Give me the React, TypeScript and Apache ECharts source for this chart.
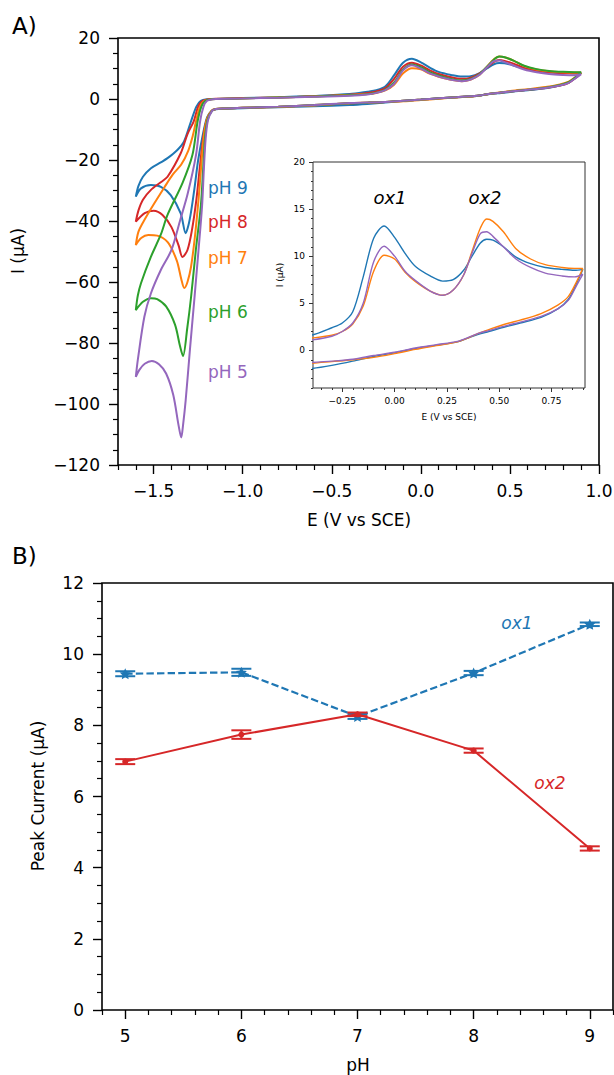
import React, { useEffect, useRef } from "react";
import * as echarts from "echarts";

// ---------- Panel A : cyclic voltammograms ----------
const PH_LABELS = ["pH 9", "pH 8", "pH 7", "pH 6", "pH 5"];
const CV_COLORS = ["#1f77b4", "#d62728", "#ff7f0e", "#2ca02c", "#9467bd"];

// reverse (negative-going) branch potentials, V vs SCE
const lowerE = [0.9, 0.87, 0.83, 0.78, 0.7, 0.6, 0.53, 0.45, 0.4, 0.35, 0.3, 0.2, 0.1, 0.0, -0.1, -0.2, -0.3, -0.4, -0.6, -0.8, -1.0, -1.1, -1.15];
const lowerI_pH9 = [8.6, 7.1, 5.4, 4.4, 3.5, 2.9, 2.5, 2.0, 1.7, 1.3, 0.9, 0.55, 0.2, -0.25, -0.65, -1.15, -1.6, -1.95, -2.4, -2.7, -3.0, -3.2, -3.35];
const lowerI_pH8 = [8.5, 7.0, 5.3, 4.4, 3.6, 3.0, 2.6, 2.1, 1.8, 1.35, 0.95, 0.6, 0.25, -0.2, -0.55, -0.95, -1.2, -1.4, -2.0, -2.5, -2.9, -3.1, -3.3];
const lowerI_pH7 = [8.7, 7.3, 5.7, 4.8, 3.9, 3.2, 2.8, 2.2, 1.8, 1.3, 0.9, 0.5, 0.1, -0.35, -0.75, -1.0, -1.2, -1.4, -2.1, -2.6, -2.9, -3.1, -3.3];
const lowerI_pH6 = [8.8, 7.2, 5.5, 4.6, 3.7, 3.0, 2.6, 2.1, 1.8, 1.35, 0.95, 0.6, 0.25, -0.2, -0.55, -0.95, -1.2, -1.4, -2.0, -2.5, -2.9, -3.1, -3.3];
const lowerI_pH5 = [8.1, 6.9, 5.3, 4.4, 3.6, 3.0, 2.6, 2.1, 1.8, 1.35, 0.95, 0.6, 0.25, -0.2, -0.55, -0.95, -1.15, -1.3, -2.0, -2.5, -2.9, -3.1, -3.3];

// cathodic peak region down to the -1.6 V vertex, [E, I]
const cathodic_pH9 = [[-1.175, -3.9], [-1.2, -6], [-1.225, -12], [-1.25, -20], [-1.27, -29], [-1.29, -37], [-1.305, -41.5], [-1.32, -44], [-1.348, -37.5], [-1.404, -31.5], [-1.459, -28.8], [-1.515, -28.2], [-1.571, -29.3], [-1.6, -32]];
const cathodic_pH8 = [[-1.175, -3.9], [-1.2, -6.5], [-1.22, -12], [-1.24, -22], [-1.26, -33], [-1.285, -43], [-1.31, -49.5], [-1.338, -51.8], [-1.36, -48], [-1.4, -42], [-1.45, -38], [-1.5, -36.6], [-1.55, -37.4], [-1.6, -40.2]];
const cathodic_pH7 = [[-1.175, -3.9], [-1.2, -6.5], [-1.218, -12], [-1.233, -22], [-1.248, -33], [-1.268, -45], [-1.29, -55], [-1.31, -60], [-1.328, -62], [-1.345, -59], [-1.37, -53], [-1.42, -47], [-1.48, -44.8], [-1.53, -44.6], [-1.57, -45.6], [-1.6, -47.9]];
const cathodic_pH6 = [[-1.173, -3.9], [-1.198, -7], [-1.212, -13], [-1.222, -23], [-1.235, -35], [-1.263, -49.5], [-1.29, -65], [-1.311, -75], [-1.335, -84.3], [-1.352, -81], [-1.38, -74], [-1.43, -68], [-1.48, -65.6], [-1.515, -65.3], [-1.56, -66.5], [-1.6, -69.2]];
const cathodic_pH5 = [[-1.172, -3.9], [-1.195, -7], [-1.208, -13], [-1.218, -23], [-1.228, -35], [-1.248, -49.5], [-1.272, -66], [-1.296, -82], [-1.32, -98.7], [-1.335, -107], [-1.345, -111], [-1.36, -107], [-1.39, -97], [-1.43, -90], [-1.47, -87], [-1.51, -85.9], [-1.55, -86.8], [-1.58, -88.8], [-1.6, -91.1]];

// return (positive-going) branch from the vertex, [E, I]
const return_pH9 = [[-1.585, -28.5], [-1.56, -25.5], [-1.515, -22.7], [-1.46, -20.8], [-1.422, -19.4], [-1.367, -16.7], [-1.33, -14], [-1.29, -7.3], [-1.26, -2.5], [-1.235, -0.6], [-1.2, -0.1]];
const return_pH8 = [[-1.585, -36.5], [-1.56, -33], [-1.515, -29.8], [-1.46, -27.3], [-1.422, -25.5], [-1.348, -17.8], [-1.31, -11.5], [-1.275, -7.3], [-1.25, -2.5], [-1.225, -0.6], [-1.19, -0.1]];
const return_pH7 = [[-1.585, -43.5], [-1.552, -39.7], [-1.496, -34.2], [-1.44, -29], [-1.393, -24.8], [-1.345, -21.5], [-1.306, -17], [-1.28, -12], [-1.262, -7.3], [-1.24, -2.5], [-1.215, -0.6], [-1.18, -0.1]];
const return_pH6 = [[-1.589, -64.5], [-1.571, -60.4], [-1.515, -51.7], [-1.46, -44.5], [-1.422, -38], [-1.337, -27.4], [-1.282, -18.3], [-1.253, -7.3], [-1.232, -2.5], [-1.21, -0.6], [-1.175, -0.1]];
const return_pH5 = [[-1.589, -85.6], [-1.552, -71.4], [-1.515, -63.7], [-1.459, -56], [-1.4, -49.5], [-1.35, -39.5], [-1.309, -31.1], [-1.262, -18.3], [-1.239, -7.3], [-1.22, -2.5], [-1.2, -0.6], [-1.168, -0.1]];

// forward (anodic) branch with ox1 / ox2 peaks
const upperE = [-1.15, -1.0, -0.8, -0.6, -0.4, -0.3, -0.25, -0.2, -0.15, -0.1, -0.05, 0.0, 0.05, 0.1, 0.17, 0.23, 0.28, 0.33, 0.37, 0.41, 0.44, 0.47, 0.52, 0.58, 0.65, 0.72, 0.8, 0.86, 0.9];
const upperI_pH9 = [0.0, 0.3, 0.6, 1.0, 1.6, 2.4, 2.9, 4.1, 7.8, 11.9, 13.2, 12.0, 10.3, 8.9, 7.9, 7.35, 7.5, 8.5, 10.0, 11.4, 11.8, 11.7, 11.0, 9.9, 9.2, 8.8, 8.6, 8.5, 8.6];
const upperI_pH8 = [0.1, 0.3, 0.5, 0.9, 1.4, 2.0, 2.5, 3.6, 6.6, 10.6, 11.9, 11.0, 9.4, 8.2, 7.1, 6.6, 7.0, 8.4, 10.3, 12.2, 12.8, 12.5, 11.6, 10.2, 9.3, 8.8, 8.5, 8.4, 8.5];
const upperI_pH7 = [0.0, 0.2, 0.5, 0.8, 1.3, 1.6, 2.0, 2.8, 4.7, 8.4, 10.1, 9.7, 8.3, 7.3, 6.3, 5.85, 6.4, 8.0, 10.5, 13.0, 13.95, 13.7, 12.6, 10.8, 9.7, 9.1, 8.8, 8.7, 8.7];
const upperI_pH6 = [0.0, 0.2, 0.5, 0.8, 1.2, 1.6, 2.1, 3.1, 5.4, 9.6, 11.3, 10.4, 8.8, 7.7, 6.6, 6.1, 6.6, 8.2, 10.5, 12.9, 13.9, 13.7, 12.6, 10.9, 9.8, 9.2, 8.9, 8.8, 8.8];
const upperI_pH5 = [0.0, 0.2, 0.4, 0.7, 1.1, 1.5, 2.0, 2.9, 5.0, 9.4, 11.05, 10.0, 8.4, 7.4, 6.3, 5.85, 6.4, 8.0, 10.3, 12.4, 12.6, 12.1, 11.0, 9.7, 8.8, 8.2, 7.9, 7.8, 8.1];

// tick labels
const A_X_TICKS = [-1.5, -1.0, -0.5, 0.0, 0.5, 1.0];
const A_Y_TICKS = [-120, -100, -80, -60, -40, -20, 0, 20];
const INSET_X_TICKS = [-0.25, 0.0, 0.25, 0.5, 0.75];
const INSET_Y_TICKS = [0, 5, 10, 15, 20];

// ---------- Panel B : peak currents vs pH ----------
const pHValues = [5, 6, 7, 8, 9];
const ox1Mean = [9.45, 9.49, 8.25, 9.47, 10.84];
const ox1Err = [0.07, 0.1, 0.07, 0.06, 0.05];
const ox2Mean = [6.98, 7.74, 8.31, 7.29, 4.54];
const ox2Err = [0.07, 0.12, 0.05, 0.06, 0.06];
const B_X_TICKS = [5, 6, 7, 8, 9];
const B_Y_TICKS = [0, 2, 4, 6, 8, 10, 12];

const FONT = "DejaVu Sans";
const BLUE = "#1f77b4";
const RED = "#d62728";

function buildLoop(lowerI: number[], cath: number[][], ret: number[][], upperI: number[]) {
  const pts: number[][] = [];
  lowerE.forEach((e, i) => pts.push([e, lowerI[i]]));
  cath.forEach((p) => pts.push(p));
  ret.forEach((p) => pts.push(p));
  upperE.forEach((e, i) => pts.push([e, upperI[i]]));
  return pts;
}

function steps(min: number, max: number, step: number, skip: number[] = []) {
  const out: number[] = [];
  const k0 = Math.ceil(min / step - 1e-9);
  const k1 = Math.floor(max / step + 1e-9);
  for (let k = k0; k <= k1; k++) {
    const v = Math.round(k * step * 1e6) / 1e6;
    if (!skip.some((s) => Math.abs(s - v) < 1e-6)) out.push(v);
  }
  return out;
}

const fmt = (d: number) => (v: number) => (v < -1e-9 ? "\u2212" : "") + Math.abs(v).toFixed(d);

function majorAxis(grid: number, pos: string, min: number, max: number, ticks: number[], dec: number, o: any) {
  return {
    type: "value",
    gridIndex: grid,
    position: pos,
    min,
    max,
    axisLine: { show: false, onZero: false },
    splitLine: { show: false },
    axisTick: { show: true, customValues: ticks, length: o.tickLen, lineStyle: { color: "#000", width: o.tickW } },
    axisLabel: {
      show: true,
      customValues: ticks,
      formatter: fmt(dec),
      margin: o.margin,
      fontFamily: FONT,
      fontSize: o.fontSize,
      color: "#000",
      showMinLabel: true,
      showMaxLabel: true,
    },
  };
}

function minorAxis(grid: number, pos: string, min: number, max: number, ticks: number[], len: number, w: number) {
  return {
    type: "value",
    gridIndex: grid,
    position: pos,
    min,
    max,
    axisLine: { show: false, onZero: false },
    splitLine: { show: false },
    axisLabel: { show: false },
    axisTick: { show: true, customValues: ticks, length: len, lineStyle: { color: "#000", width: w } },
  };
}

const STAR = "path://M0,-10 L2.9,-4 9.5,-3.1 4.8,1.5 5.9,8.1 0,5 -5.9,8.1 -4.8,1.5 -9.5,-3.1 -2.9,-4 Z";

export default function App() {
  const ref = useRef<HTMLDivElement>(null);

  useEffect(() => {
    if (!ref.current) return;
    const chart = echarts.init(ref.current, null, { renderer: "svg" });

    const loops = [
      buildLoop(lowerI_pH9, cathodic_pH9, return_pH9, upperI_pH9),
      buildLoop(lowerI_pH8, cathodic_pH8, return_pH8, upperI_pH8),
      buildLoop(lowerI_pH7, cathodic_pH7, return_pH7, upperI_pH7),
      buildLoop(lowerI_pH6, cathodic_pH6, return_pH6, upperI_pH6),
      buildLoop(lowerI_pH5, cathodic_pH5, return_pH5, upperI_pH5),
    ];

    const mainSeries = loops.map((d, i) => ({
      type: "line",
      name: PH_LABELS[i],
      xAxisIndex: 0,
      yAxisIndex: 0,
      data: d,
      showSymbol: false,
      smooth: 0.3,
      lineStyle: { color: CV_COLORS[i], width: 2 },
      z: 2 + i,
    }));

    // inset: pH 9, pH 7, pH 5
    const insetIdx = [0, 2, 4];
    const insetSeries = insetIdx.map((i, k) => ({
      type: "line",
      name: PH_LABELS[i] + " (inset)",
      xAxisIndex: 2,
      yAxisIndex: 2,
      data: loops[i],
      showSymbol: false,
      smooth: 0.3,
      clip: true,
      lineStyle: { color: CV_COLORS[i], width: 1.4 },
      z: 10 + k,
    }));

    const errData = (mean: number[], err: number[]) => pHValues.map((p, i) => [p, mean[i] - err[i], mean[i] + err[i]]);
    const errSeries = (name: string, mean: number[], err: number[], color: string, z: number) => ({
      type: "custom",
      name,
      xAxisIndex: 4,
      yAxisIndex: 4,
      data: errData(mean, err),
      encode: { x: 0, y: [1, 2] },
      z,
      renderItem: (params: any, api: any) => {
        const x = api.value(0);
        const lo = api.coord([x, api.value(1)]);
        const hi = api.coord([x, api.value(2)]);
        const cap = 10;
        const st = { stroke: color, lineWidth: 2 };
        return {
          type: "group",
          children: [
            { type: "line", shape: { x1: lo[0], y1: lo[1], x2: hi[0], y2: hi[1] }, style: st },
            { type: "line", shape: { x1: lo[0] - cap, y1: lo[1], x2: lo[0] + cap, y2: lo[1] }, style: st },
            { type: "line", shape: { x1: hi[0] - cap, y1: hi[1], x2: hi[0] + cap, y2: hi[1] }, style: st },
          ],
        };
      },
    });

    const txt = (text: string, x: number, y: number, size: number, extra: any = {}) => ({
      type: "text",
      x,
      y,
      rotation: extra.rotation || 0,
      z: 100,
      style: {
        text,
        fontFamily: FONT,
        fontSize: size,
        fontStyle: extra.italic ? "italic" : "normal",
        fill: extra.color || "#000",
        align: extra.align || "center",
        verticalAlign: "middle",
      },
    });

    const phY = [188, 222, 258, 312, 372];

    const option: any = {
      animation: false,
      backgroundColor: "#fff",
      grid: [
        { left: 118, top: 38, width: 481, height: 427, show: true, borderColor: "#000", borderWidth: 1.6, backgroundColor: "transparent", containLabel: false, outerBoundsMode: "none" },
        { left: 313, top: 162, width: 272, height: 226, show: true, borderColor: "#333", borderWidth: 1, backgroundColor: "#fff", containLabel: false, outerBoundsMode: "none", z: 5 },
        { left: 102, top: 583, width: 511, height: 427, show: true, borderColor: "#000", borderWidth: 1.6, backgroundColor: "transparent", containLabel: false, outerBoundsMode: "none" },
      ],
      xAxis: [
        majorAxis(0, "bottom", -1.7, 1.0, A_X_TICKS, 1, { tickLen: 9, tickW: 1.4, margin: 17, fontSize: 17 }),
        minorAxis(0, "bottom", -1.7, 1.0, steps(-1.7, 1.0, 0.1, A_X_TICKS), 5, 1.2),
        majorAxis(1, "bottom", -0.39, 0.91, INSET_X_TICKS, 2, { tickLen: 4, tickW: 0.8, margin: 8, fontSize: 9 }),
        minorAxis(1, "bottom", -0.39, 0.91, steps(-0.39, 0.91, 0.05, INSET_X_TICKS), 2, 0.8),
        majorAxis(2, "bottom", 4.8, 9.2, B_X_TICKS, 0, { tickLen: 9, tickW: 1.4, margin: 17, fontSize: 17 }),
        minorAxis(2, "bottom", 4.8, 9.2, steps(4.8, 9.2, 0.2, B_X_TICKS), 5, 1.2),
      ],
      yAxis: [
        majorAxis(0, "left", -120, 20, A_Y_TICKS, 0, { tickLen: 9, tickW: 1.4, margin: 18, fontSize: 17 }),
        minorAxis(0, "left", -120, 20, steps(-120, 20, 5, A_Y_TICKS), 5, 1.2),
        majorAxis(1, "left", -4, 20, INSET_Y_TICKS, 0, { tickLen: 4, tickW: 0.8, margin: 8, fontSize: 9 }),
        minorAxis(1, "left", -4, 20, steps(-4, 20, 1, INSET_Y_TICKS), 2, 0.8),
        majorAxis(2, "left", 0, 12, B_Y_TICKS, 0, { tickLen: 9, tickW: 1.4, margin: 18, fontSize: 17 }),
        minorAxis(2, "left", 0, 12, steps(0, 12, 0.5, B_Y_TICKS), 5, 1.2),
      ],
      series: [
        ...mainSeries,
        ...insetSeries,
        errSeries("ox1 error", ox1Mean, ox1Err, BLUE, 3),
        {
          type: "line",
          name: "ox1",
          xAxisIndex: 4,
          yAxisIndex: 4,
          data: pHValues.map((p, i) => [p, ox1Mean[i]]),
          symbol: STAR,
          symbolSize: 11,
          showSymbol: true,
          itemStyle: { color: BLUE },
          lineStyle: { color: BLUE, width: 2.2, type: [7.4, 3.2] },
          z: 4,
        },
        errSeries("ox2 error", ox2Mean, ox2Err, RED, 5),
        {
          type: "line",
          name: "ox2",
          xAxisIndex: 4,
          yAxisIndex: 4,
          data: pHValues.map((p, i) => [p, ox2Mean[i]]),
          symbol: "circle",
          symbolSize: 6,
          showSymbol: true,
          itemStyle: { color: RED },
          lineStyle: { color: RED, width: 2 },
          z: 6,
        },
      ],
      graphic: [
        txt("A)", 12, 26, 23, { align: "left" }),
        txt("B)", 12, 556, 23, { align: "left" }),
        txt("I (\u03bcA)", 18, 251, 17, { rotation: Math.PI / 2 }),
        txt("E (V vs SCE)", 359, 520, 17),
        txt("I (\u03bcA)", 280, 275, 9, { rotation: Math.PI / 2 }),
        txt("E (V vs SCE)", 449, 417, 9),
        txt("ox1", 390, 197, 18, { italic: true }),
        txt("ox2", 485, 197, 18, { italic: true }),
        ...PH_LABELS.map((l, i) => txt(l, 208, phY[i], 17, { align: "left", color: CV_COLORS[i] })),
        txt("Peak Current (\u03bcA)", 38, 796, 17, { rotation: Math.PI / 2 }),
        txt("pH", 358, 1065, 17),
        txt("ox1", 517, 623, 17, { italic: true, color: BLUE }),
        txt("ox2", 550, 783, 17, { italic: true, color: RED }),
      ],
    };

    chart.setOption(option);
    return () => chart.dispose();
  }, []);

  return <div ref={ref} style={{ position: "absolute", left: 0, top: 0, width: 614, height: 1075 }} />;
}
